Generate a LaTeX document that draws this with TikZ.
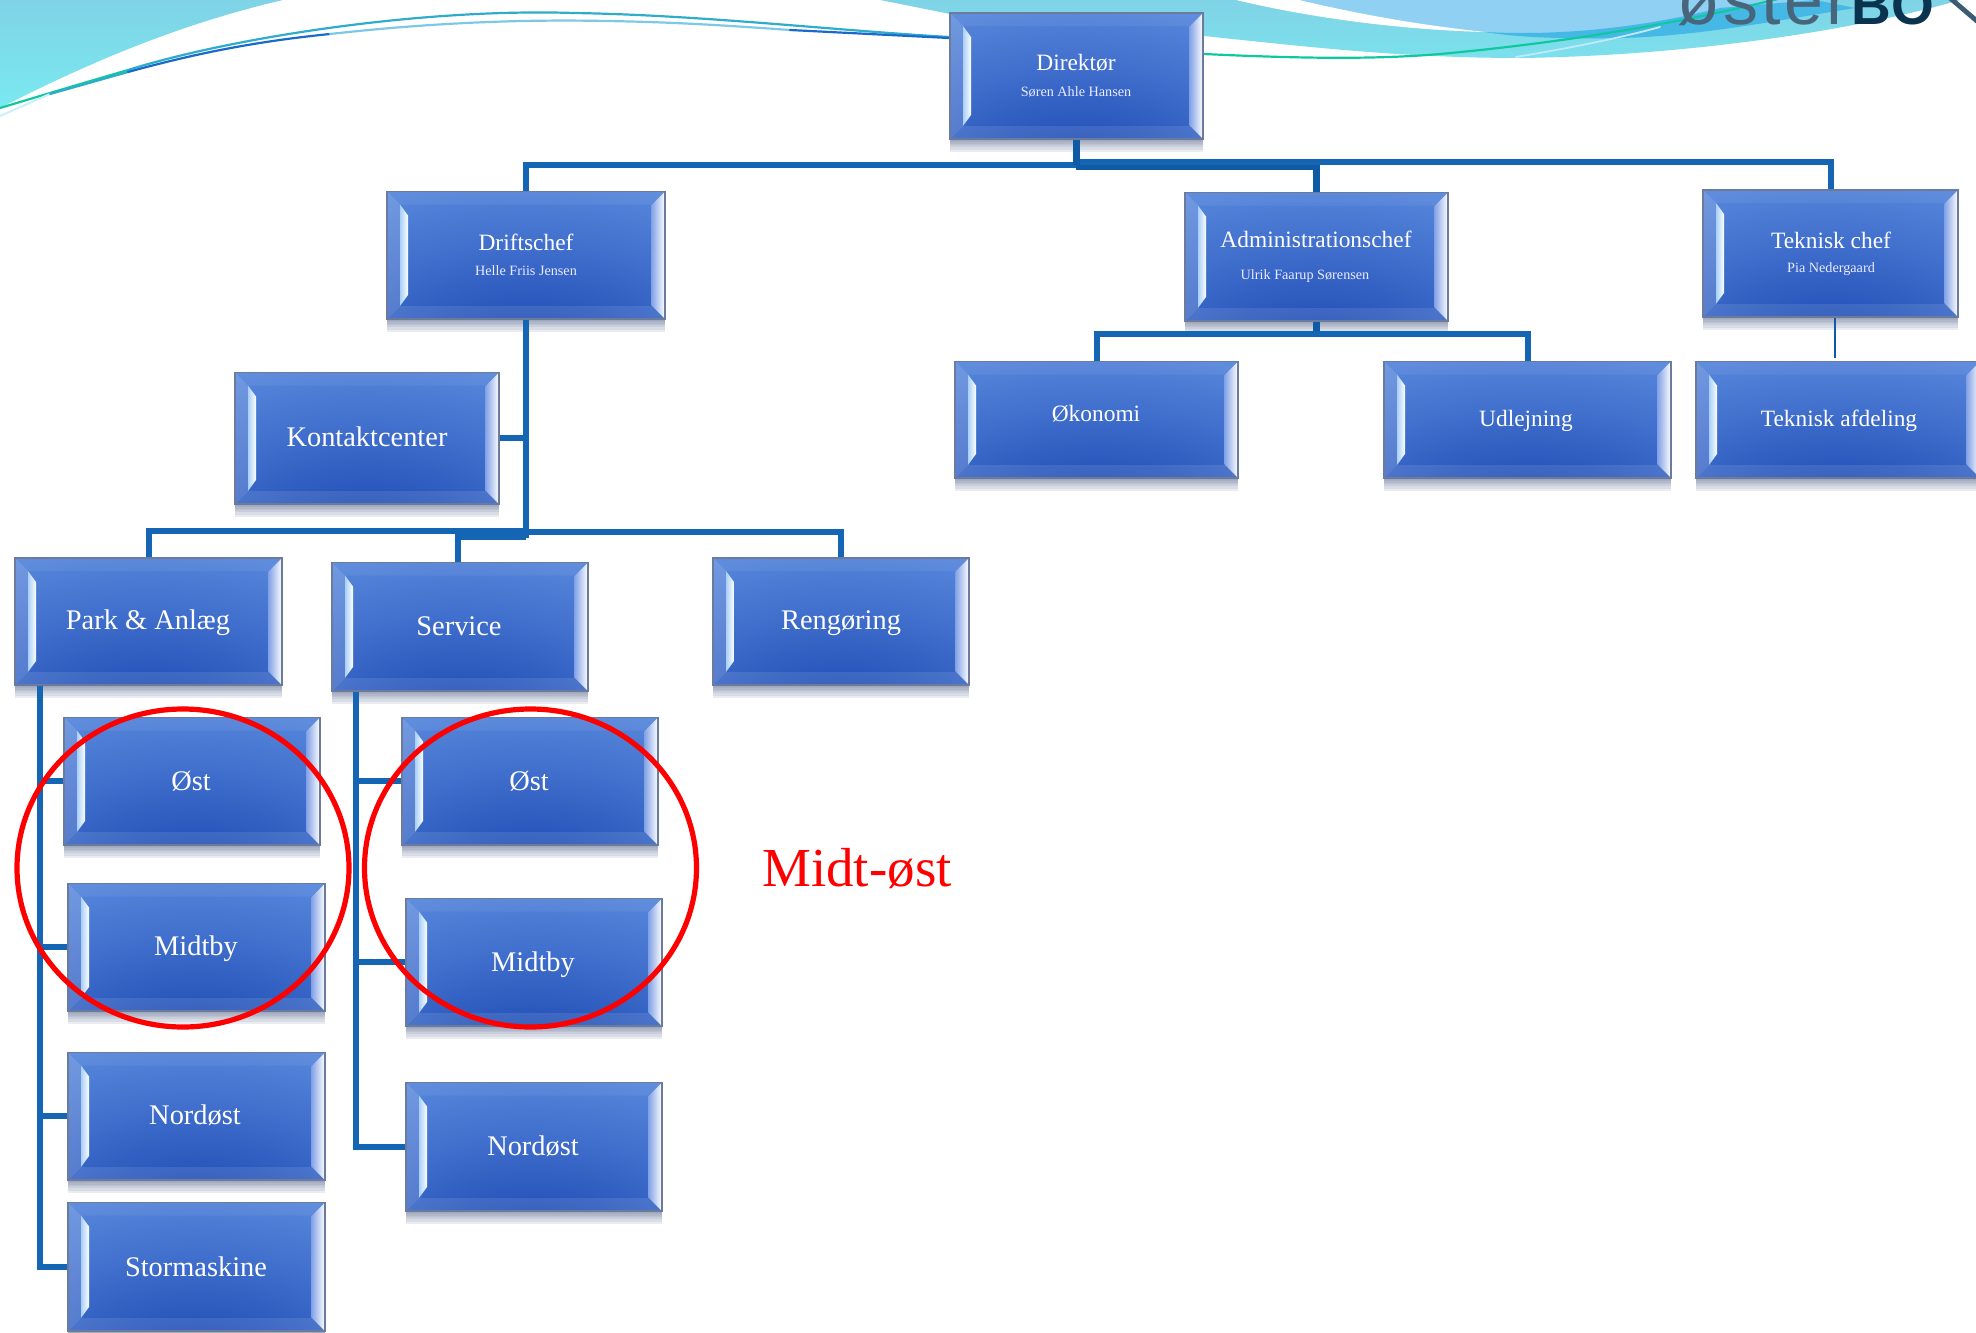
\documentclass[tikz,border=0pt]{standalone}
\usepackage{fontspec}
\setmainfont{Liberation Serif}
\newfontfamily\logofont{Liberation Sans}
\usetikzlibrary{calc,fadings}
\definecolor{connblue}{HTML}{1565B5}
\definecolor{conndark}{HTML}{0F5AA5}
\definecolor{edgegray}{HTML}{6C7A9C}
\definecolor{tealA}{HTML}{7FD3E6}
\definecolor{tealB}{HTML}{7AE9F0}
\definecolor{skyA}{HTML}{90D0F2}
\definecolor{skyB}{HTML}{45B8E5}
\definecolor{linegreen}{HTML}{10C8A0}
\definecolor{lineteal}{HTML}{2FACCB}
\definecolor{linepale}{HTML}{7CC8E6}
\definecolor{lineblue}{HTML}{1A6ACB}
\definecolor{logodark}{HTML}{0A3350}
\definecolor{bevelleft}{HTML}{A8CFF8}
\definecolor{bevelright}{HTML}{7F9FE6}
\pgfdeclareradialshading{boxglow}{\pgfpoint{0bp}{-42bp}}{%
 rgb(0bp)=(0.12,0.29,0.70);
 rgb(12bp)=(0.14,0.32,0.72);
 rgb(32bp)=(0.25,0.43,0.80);
 rgb(52bp)=(0.34,0.53,0.86);
 rgb(70bp)=(0.42,0.60,0.89);
 rgb(88bp)=(0.48,0.64,0.90);
 rgb(105bp)=(0.60,0.71,0.93)}
\def\pNW{path picture bounding box.north west}
\def\pNE{path picture bounding box.north east}
\def\pSW{path picture bounding box.south west}
\def\pSE{path picture bounding box.south east}
\tikzset{
 softlayer/.style={preaction={fill=edgegray,fill opacity=0.14,draw=none,transform canvas={yshift=-#1}}},
 orgbox/.style={rectangle,inner sep=0pt,draw=edgegray,line width=0.55pt,shading=boxglow,
  softlayer=0.8pt,softlayer=1.6pt,softlayer=2.4pt,softlayer=3.2pt,softlayer=4.2pt,softlayer=5.4pt,softlayer=6.6pt,
  path picture={
   \fill[white,opacity=0.06] (\pNW)--(\pNE)--($(\pNE)+(-13,13)$)--($(\pNW)+(13,13)$)--cycle;
   \fill[white,opacity=0.10] (\pSW)--(\pSE)--($(\pSE)+(-13,-13)$)--($(\pSW)+(13,-13)$)--cycle;
   \fill[white,opacity=0.16] (\pNW)--($(\pNW)+(13,13)$)--($(\pSW)+(13,-13)$)--(\pSW)--cycle;
   \shade[left color=bevelleft,right color=white]
     ($(\pNW)+(13,13)$)--($(\pNW)+(21,24)$)--($(\pSW)+(21,-24)$)--($(\pSW)+(13,-13)$)--cycle;
   \shade[left color=bevelright,right color=white]
     (\pNE)--($(\pNE)+(-14,14)$)--($(\pSE)+(-14,-14)$)--(\pSE)--cycle;
  }},
 conn/.style={draw=connblue,line width=3pt,line cap=butt,line join=miter},
 conndk/.style={draw=conndark,line width=3.5pt,line join=miter},
 connthin/.style={draw=conndark,line width=1pt},
 ring/.style={draw=red,line width=2.6pt},
 lab/.style={text=white,inner sep=0pt},
 labA/.style={lab,font=\fontsize{14.2}{16}\selectfont},
 labB/.style={lab,font=\fontsize{11.7}{14}\selectfont},
 labC/.style={text=white!92!blue,inner sep=0pt,font=\fontsize{7.1}{9}\selectfont},
 swoosh/.style={line width=#1,line cap=round},
}
\newcommand{\orgbox}[5]{\node[orgbox,minimum width={(#4-#2)*0.5pt},minimum height={(#5-#3)*0.5pt}] (#1) at ({(#2+#4)/2},{(#3+#5)/2}) {};}
\begin{document}
\begin{tikzpicture}[x=0.5pt,y=-0.5pt]
\useasboundingbox (0,0) rectangle (1976,1333);
\clip (0,0) rectangle (1976,1333);
% background swooshes
\shade[top color=tealA,bottom color=tealB] (0,108) .. controls (90,62) and (180,24) .. (283,0) -- (0,0) -- cycle;
\shade[top color=tealA,bottom color=tealB!60!tealA] (880,0) -- (1000,24) -- (1204,36) .. controls (1300,46) and (1400,58) .. (1520,58) .. controls (1680,56) and (1850,32) .. (1960,0) -- cycle;
\fill[skyA] (1299,0) .. controls (1360,14) and (1430,28) .. (1485,32) .. controls (1560,40) and (1620,40) .. (1690,28) .. controls (1740,18) and (1780,10) .. (1820,0) -- cycle;
\fill[skyB] (1485,32) .. controls (1560,36) and (1640,28) .. (1720,8) -- (1815,0) -- (1855,8) .. controls (1780,20) and (1700,36) .. (1622,38) .. controls (1570,39) and (1520,38) .. (1485,32) -- cycle;
\fill[white] (1236,0) .. controls (1320,20) and (1410,30) .. (1485,32) .. controls (1410,24) and (1350,12) .. (1299,0) -- cycle;
\draw[swoosh=0.9pt,color=cyan!25!white] (1516,57) .. controls (1570,48) and (1620,38) .. (1660,27);
\draw[swoosh=1.1pt,color=linegreen] (1204,54) .. controls (1290,58) and (1370,60) .. (1440,54) .. controls (1550,44) and (1670,26) .. (1790,-4);
\draw[swoosh=1.1pt,color=linegreen] (0,108) .. controls (40,96) and (80,84) .. (128,70);
\draw[swoosh=1.1pt,color=lineteal] (128,70) .. controls (230,38) and (420,8) .. (574,13);
\draw[swoosh=1.1pt,color=lineteal] (574,13) .. controls (700,15) and (830,30) .. (949,37);
\draw[swoosh=1pt,color=cyan!20!white] (0,116) -- (50,94);
\draw[swoosh=1.1pt,color=lineteal] (50,94) -- (128,72);
\draw[swoosh=1.1pt,color=lineblue] (128,72) .. controls (190,55) and (250,42) .. (330,34);
\draw[swoosh=1.1pt,color=linepale] (330,34) .. controls (420,24) and (510,19) .. (606,21) .. controls (670,22) and (720,25) .. (790,30);
\draw[swoosh=1.1pt,color=lineblue] (790,30) -- (949,38);
% logo, cut off by the top edge
\node[inner sep=0pt,anchor=base west,text=logodark!75!white,font=\logofont\fontsize{35}{35}\selectfont\addfontfeature{LetterSpace=4.5}] (logoa) at (1677,25) {øster};
\node[inner sep=0pt,anchor=base west,text=logodark,font=\logofont\bfseries\fontsize{27.5}{28}\selectfont] (logob) at (1851,25) {BO};
\draw[draw=logodark!80!white,line width=2.4pt] (1950,-2) -- (1978,22);
% boxes
\orgbox{direktor}{950}{13}{1203}{139}
\orgbox{drift}{387}{191.5}{665}{319}
\orgbox{admin}{1185}{192.5}{1448}{321}
\orgbox{tchef}{1703}{190}{1958}{317}
\orgbox{kontakt}{235}{372.5}{499}{504}
\orgbox{okonomi}{955}{361.5}{1238}{478}
\orgbox{udlej}{1384}{361.5}{1671}{478}
\orgbox{tafd}{1696}{361.5}{1980}{478}
\orgbox{park}{15}{558}{282}{685}
\orgbox{service}{332}{562.5}{588}{691}
\orgbox{reng}{713}{558}{969}{685}
\orgbox{ostA}{64}{717.5}{320}{845}
\orgbox{ostB}{402}{717.5}{658}{845}
\orgbox{midtA}{68}{883.5}{325}{1011}
\orgbox{midtB}{406}{898.5}{662}{1026}
\orgbox{nordA}{68}{1052.5}{325}{1180}
\orgbox{nordB}{406}{1082.5}{662}{1211}
\orgbox{storm}{68}{1202.5}{325}{1331}
% junctions
\coordinate (busL) at (1076,165);
\coordinate (busA) at (1076,166);
\coordinate (busT) at (1076,162);
\coordinate (adminJ) at (1316.5,337);
\coordinate (adminBus) at (1316.5,334);
\coordinate (driftEnd) at (526,538);
\coordinate (busPark) at (526,531);
\coordinate (busReng) at (526,532);
\coordinate (busServ) at (526,537);
\coordinate (tekEnd) at (1835,358);
% connectors
\draw[conn] (drift.north) |- (busL);
\draw[conndk] (admin.north) |- (busA);
\draw[conn] (tchef.north) |- (busT);
\draw[conndk] (direktor.south) -- (direktor.south |- busL);
\draw[conn] (drift.south) -- (driftEnd);
\draw[conn] (kontakt.east) -- (kontakt.east -| drift.south);
\draw[conn] (park.north) |- (busPark);
\draw[conn] (reng.north) |- (busReng);
\draw[conn] ([xshift=-1pt]service.north) |- (busServ);
\draw[conndk] (admin.south) -- (adminJ);
\draw[conn] (okonomi.north) |- (adminBus);
\draw[conn] (udlej.north) |- (adminBus);
\draw[connthin] ([xshift=2.25pt]tchef.south) -- (tekEnd);
\draw[conn] ([xshift=13pt]park.south west) |- (ostA.west);
\draw[conn] ([xshift=13pt]park.south west) |- (midtA.west);
\draw[conn] ([xshift=13pt]park.south west) |- (nordA.west);
\draw[conn] ([xshift=13pt]park.south west) |- (storm.west);
\draw[conn] ([xshift=12.5pt]service.south west) |- (ostB.west);
\draw[conn] ([xshift=12.5pt]service.south west) |- (midtB.west);
\draw[conn] ([xshift=12.5pt]service.south west) |- (nordB.west);
% labels
\node[labB] (tDir) at (1076,63) {Direktør};
\node[labC] (sDir) at (1076,92) {Søren Ahle Hansen};
\node[labB] (tDri) at (526,242) {Driftschef};
\node[labC] (sDri) at (526,271) {Helle Friis Jensen};
\node[labB] (tAdm) at (1316,239) {Administrationschef};
\node[labC] (sAdm) at (1305,276) {Ulrik Faarup Sørensen};
\node[labB] (tTek) at (1831,240) {Teknisk chef};
\node[labC] (sTek) at (1831,269) {Pia Nedergaard};
\node[labA] (tKon) at (367,437) {Kontaktcenter};
\node[labB] (tOko) at (1096,414) {Økonomi};
\node[labB] (tUdl) at (1526,421) {Udlejning};
\node[labB] (tTaf) at (1839,421) {Teknisk afdeling};
\node[labA] (tPar) at (148,623) {Park \& Anlæg};
\node[labA] (tSer) at (459,626) {Service};
\node[labA] (tRen) at (841,623) {Rengøring};
\node[labA] (tOsA) at (191,781) {Øst};
\node[labA] (tOsB) at (529,781) {Øst};
\node[labA] (tMiA) at (196,949) {Midtby};
\node[labA] (tMiB) at (533,965) {Midtby};
\node[labA] (tNoA) at (195,1115) {Nordøst};
\node[labA] (tNoB) at (533,1146) {Nordøst};
\node[labA] (tSto) at (196,1267) {Stormaskine};
% rings
\draw[ring] (183,868) ellipse (166 and 159);
\draw[ring] (530.5,868) ellipse (166 and 159);
\node[text=red,inner sep=0pt,font=\fontsize{27.5}{30}\selectfont] (tMid) at (857,869) {Midt-øst};
\end{tikzpicture}
\end{document}
